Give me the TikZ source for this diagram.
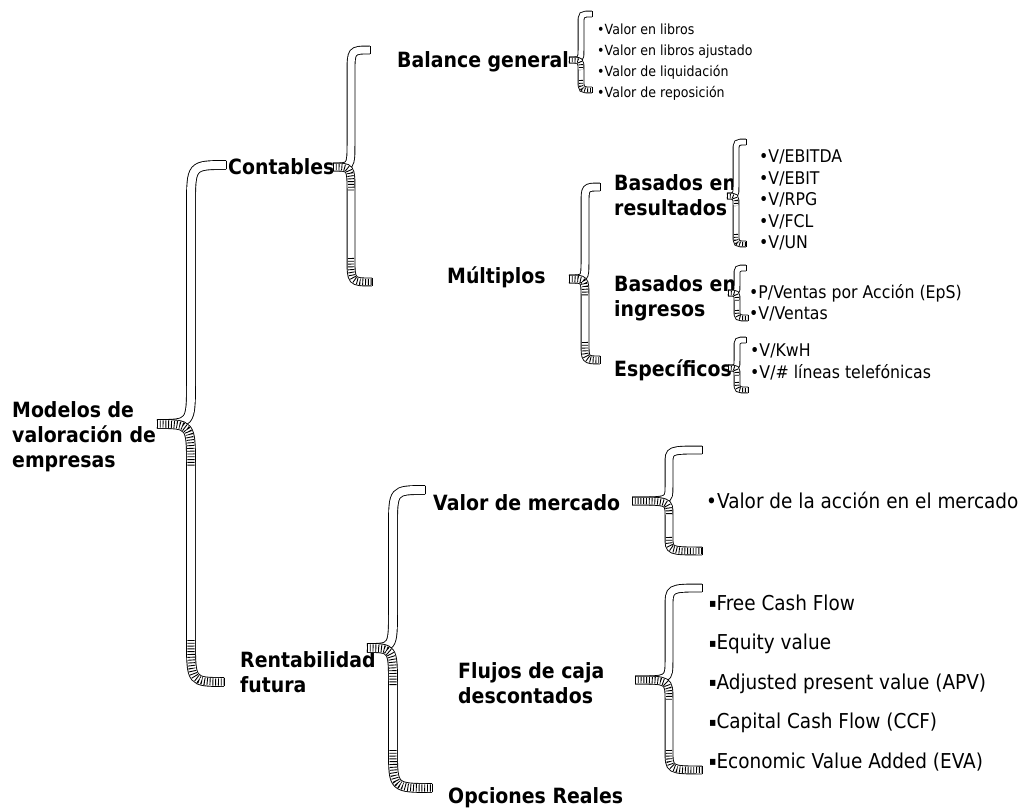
\documentclass[tikz,border=0pt]{standalone}
\usepackage{fontspec}
\setmainfont{DejaVu Sans}[FakeStretch=0.9]
\tikzset{
  rib/.style={line width=0.9pt, draw=black, double=white},
  hatch/.style={draw=black, dash pattern=on 0.9pt off 1.9pt},
  capline/.style={line width=0.9pt, draw=black},
  lbl/.style={font=\bfseries\fontsize{21}{25}\selectfont, inner sep=0pt, anchor=west, align=left},
  itemS/.style={font=\fontsize{14}{21}\selectfont, inner sep=0pt, anchor=west, align=left},
  itemM/.style={font=\fontsize{17.5}{21.5}\selectfont, inner sep=0pt, anchor=west, align=left},
  itemL/.style={font=\fontsize{20.5}{39.5}\selectfont, inner sep=0pt, anchor=west, align=left},
}
\newcommand\sqb{\raisebox{2.5pt}{\fontsize{12}{12}\selectfont ▪}}
% #1 x0, #2 ytop, #3 ymid, #4 ybot, #5 xtip, #6 xtopend, #7 xbotend, #8 width, #9 radius
\newcommand\ribbon[9]{%
  \draw[rib, double distance=#8pt] (#6,#2) .. controls (#1,#2) .. (#1,#2+#9) -- (#1,#3-#9) .. controls (#1,#3) .. (#5,#3);
  \draw[rib, double distance=#8pt] (#5,#3) .. controls (#1,#3) .. (#1,#3+#9) -- (#1,#4-#9) .. controls (#1,#4) .. (#7,#4);
  \draw[hatch, line width=#8pt-0.6pt] (#5,#3) .. controls (#1,#3) .. (#1,#3+#9);
  \draw[hatch, line width=#8pt-0.6pt] (#1,#4-#9) .. controls (#1,#4) .. (#7,#4);
  \draw[capline] (#6,#2-#8/2-0.45) -- (#6,#2+#8/2+0.45);
  \draw[capline] (#7,#4-#8/2-0.45) -- (#7,#4+#8/2+0.45);
  \draw[capline] (#5,#3-#8/2-0.45) -- (#5,#3+#8/2+0.45);
}
\begin{document}
\begin{tikzpicture}[x=1pt,y=-1pt]
\fill[white] (0,0) rectangle (1021,808);
\useasboundingbox (0,0) rectangle (1021,808);

% labels
\node[lbl] (modelos) at (12,437) {Modelos de\\valoración de\\empresas};
\node[lbl] (contables) at (228,167) {Contables};
\node[lbl] (rentab) at (240,672) {Rentabilidad\\futura};
\node[lbl] (balance) at (397,62) {Balance general};
\node[lbl] (multiplos) at (447,277) {Múltiplos};
\node[lbl] (bres) at (614,195) {Basados en\\resultados};
\node[lbl] (bing) at (614,298) {Basados en\\ingresos};
\node[lbl] (espec) at (614,370) {Específicos};
\node[lbl] (vmerc) at (433,503) {Valor de mercado};
\node[lbl] (flujos) at (458,683) {Flujos de caja\\descontados};
\node[lbl] (opciones) at (448,798) {Opciones Reales};

% item lists
\node[itemS] (ibal) at (597,62) {•Valor en libros\\•Valor en libros ajustado\\•Valor de liquidación\\•Valor de reposición};
\node[itemM] (ires) at (759,200) {•V/EBITDA\\•V/EBIT\\•V/RPG\\•V/FCL\\•V/UN};
\node[itemM] (iing) at (749,303) {•P/Ventas por Acción (EpS)\\•V/Ventas};
\node[itemM] (iesp) at (750,362) {•V/KwH\\•V/\# líneas telefónicas};
\node[itemL] (iacc) at (706,500) {•Valor de la acción en el mercado};
\node[itemL] (iflu) at (709,683) {\sqb Free Cash Flow\\\sqb Equity value\\\sqb Adjusted present value (APV)\\\sqb Capital Cash Flow (CCF)\\\sqb Economic Value Added (EVA)};

% ribbon braces
\ribbon{191}{165}{424}{682}{157}{226}{224}{8}{42}
\ribbon{351}{50}{167}{282}{333}{370}{372}{7}{24}
\ribbon{581}{14}{60}{90}{569}{592}{592}{5}{10}
\ribbon{585}{187}{279}{360}{569}{600}{600}{7}{18}
\ribbon{736}{142}{196}{244}{727}{746}{746}{5}{10}
\ribbon{737}{268}{293}{318}{728}{746}{748}{5}{8}
\ribbon{737}{340}{368}{390}{728}{746}{748}{5}{8}
\ribbon{393}{490}{648}{788}{367}{425}{432}{8}{38}
\ribbon{669}{450}{501}{551}{632}{702}{702}{7}{14}
\ribbon{669}{588}{680}{770}{635}{702}{702}{7}{20}
\end{tikzpicture}
\end{document}
